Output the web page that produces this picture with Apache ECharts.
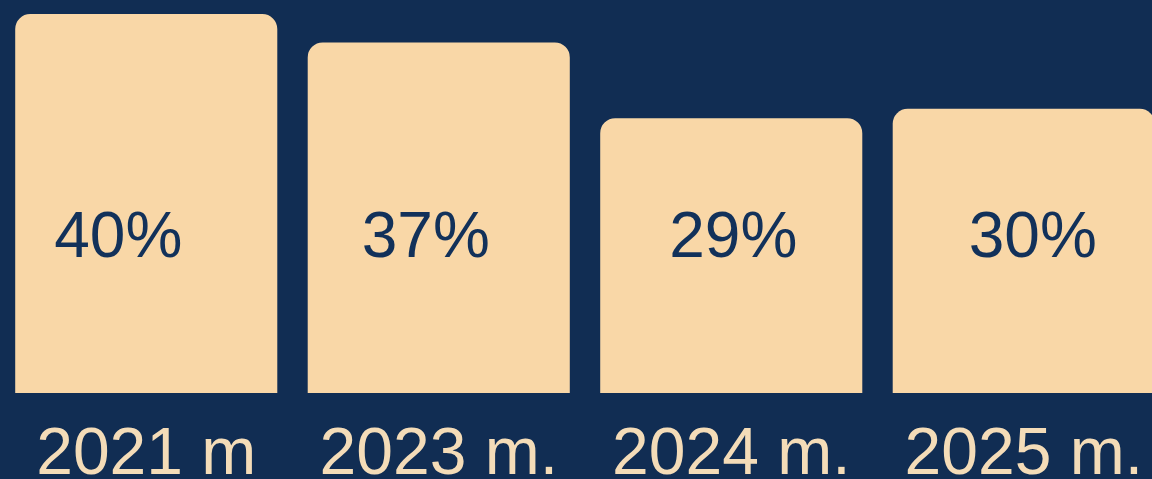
<!DOCTYPE html>
<html>
<head>
<meta charset="utf-8">
<script src="https://cdn.jsdelivr.net/npm/echarts@6/dist/echarts.min.js"></script>
<style>
  html, body { margin: 0; padding: 0; background: #112d53; }
  #chart { width: 1152px; height: 479px; }
</style>
</head>
<body>
<div id="chart"></div>
<script>
const categories = ['2021 m', '2023 m.', '2024 m.', '2025 m.'];
const shares = [40, 37, 29, 30];
// small sideways nudges of the value labels, as in the source picture
const labelShift = [-28, -13, 2, 9];

const chart = echarts.init(document.getElementById('chart'));
chart.setOption({
  backgroundColor: '#112d53',
  animation: false,
  // plot runs a bit past the right edge, last bar is cut off
  grid: {
    left: 0, right: -18, top: 14, bottom: 86,
    containLabel: false,
    outerBoundsMode: 'none'
  },
  xAxis: {
    type: 'category',
    data: categories,
    axisLine: { show: false },
    axisTick: { show: false },
    axisLabel: {
      color: '#f4dcb8',
      fontSize: 66,
      fontFamily: 'Liberation Sans, Arial, sans-serif',
      margin: 30,
      interval: 0
    }
  },
  yAxis: {
    type: 'value',
    min: 0,
    max: 40,
    show: false,
    splitLine: { show: false }
  },
  series: [{
    type: 'bar',
    barCategoryGap: '10.4%',
    data: shares.map((v, i) => ({
      value: v,
      label: { offset: [labelShift[i], 0] }
    })),
    itemStyle: { color: '#f9d7a7', borderRadius: [15, 15, 0, 0] },
    label: {
      show: true,
      position: 'insideBottom',
      distance: 122,
      formatter: '{c}%',
      color: '#12315a',
      fontSize: 64,
      fontFamily: 'Liberation Sans, Arial, sans-serif'
    }
  }]
});
</script>
</body>
</html>
